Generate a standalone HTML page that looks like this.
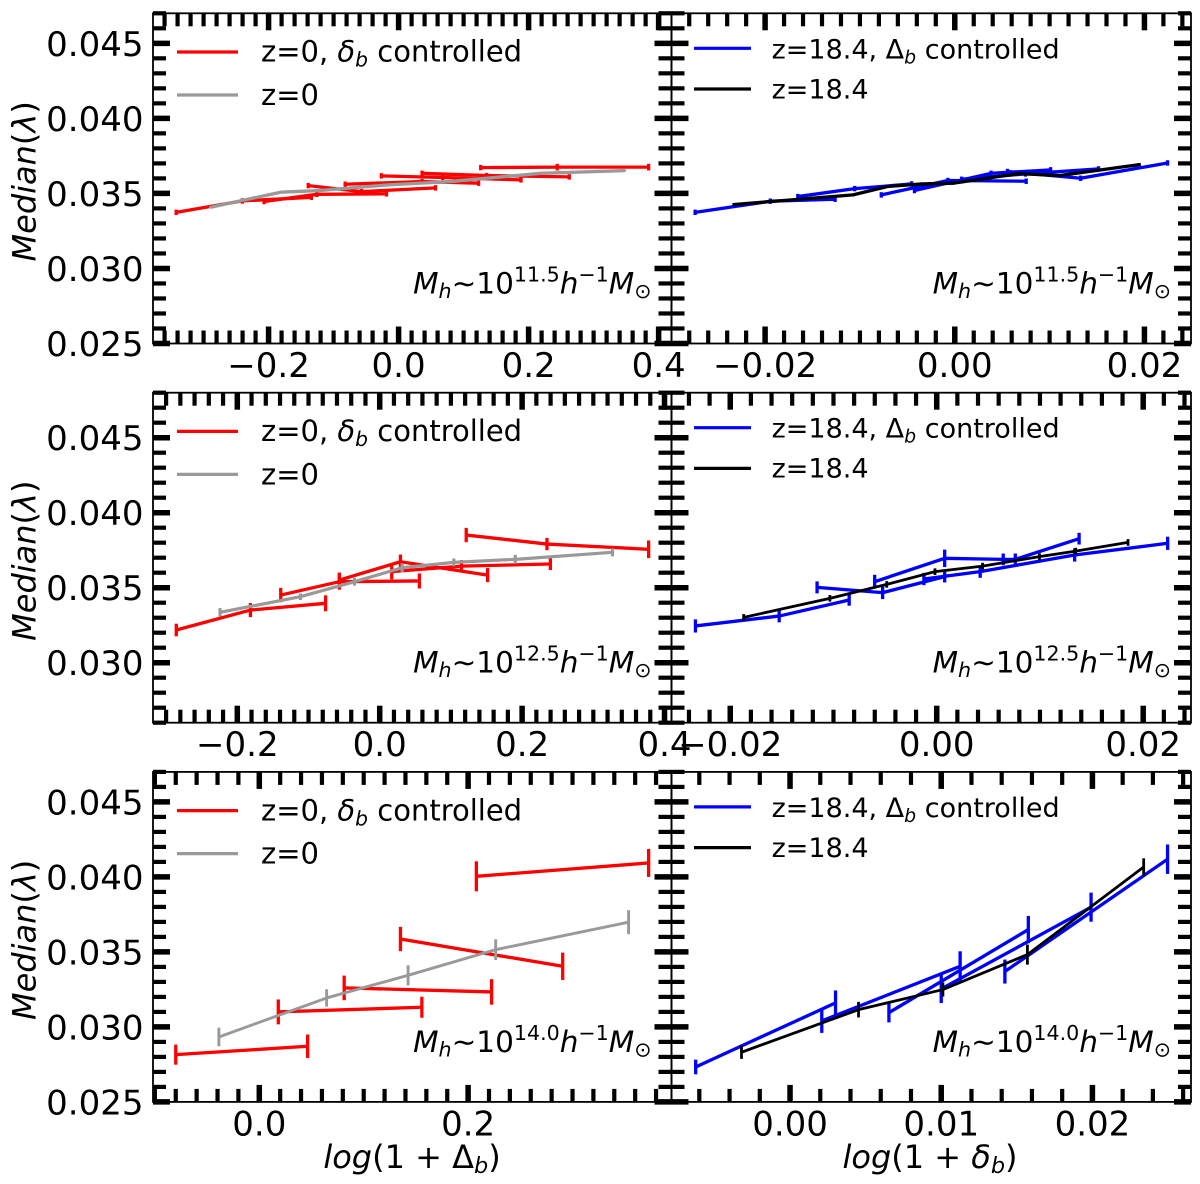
<!DOCTYPE html>
<html>
<head>
<meta charset="utf-8">
<title>Median spin parameter panels</title>
<style>
html,body{margin:0;padding:0;background:#fff;}
svg{display:block;font-family:"DejaVu Sans","Liberation Sans",sans-serif;}
</style>
</head>
<body>
<svg id="chart" width="1200" height="1184" viewBox="0 0 1200 1184" xmlns="http://www.w3.org/2000/svg"></svg>
<script>
// ---------- tick arrays ----------
const yTicksMain = [0.025, 0.030, 0.035, 0.040, 0.045];
const yLabelsMain = ['0.025', '0.030', '0.035', '0.040', '0.045'];
const yTicksMid = [0.030, 0.035, 0.040, 0.045];
const yLabelsMid = ['0.030', '0.035', '0.040', '0.045'];
const xTicksWide = [-0.2, 0.0, 0.2, 0.4];
const xLabelsWide = ['\u22120.2', '0.0', '0.2', '0.4'];
const xTicksBottomLeft = [0.0, 0.2];
const xLabelsBottomLeft = ['0.0', '0.2'];
const xTicksNarrow = [-0.02, 0.00, 0.02];
const xLabelsNarrow = ['\u22120.02', '0.00', '0.02'];
const xTicksBottomRight = [0.00, 0.01, 0.02];
const xLabelsBottomRight = ['0.00', '0.01', '0.02'];

// ---------- row 1, left ----------
const topLeftRedX = [[-0.3422,-0.2403,-0.1342],[-0.2069,-0.1257,-0.0186],[-0.139,-0.0568,0.0568],[-0.0822,0.0361,0.1231],[-0.0265,0.0679,0.1883],[0.0361,0.1353,0.2626],[0.1263,0.244,0.3846]];
const topLeftRedY = [[0.03374,0.0345,0.03474],[0.03446,0.03494,0.03497],[0.03552,0.03512,0.03537],[0.03561,0.03579,0.03568],[0.03617,0.03606,0.0359],[0.03634,0.03619,0.0361],[0.03672,0.03675,0.03675]];
const topLeftRedErr = [[0.00018,0.00018,0.00018],[0.00018,0.00018,0.00018],[0.00018,0.00018,0.00018],[0.00018,0.00018,0.00018],[0.00018,0.00018,0.00018],[0.00018,0.00018,0.00018],[0.00018,0.00022,0.00022]];
const topLeftGreyX = [-0.2891,-0.1814,-0.122,-0.0159,0.0796,0.2186,0.3475];
const topLeftGreyY = [0.03408,0.03508,0.03519,0.03557,0.03579,0.03634,0.03652];
const topLeftGreyErr = [0.00008,0.00008,0.00008,0.00008,0.00008,0.00008,0.00008];

// ---------- row 1, right ----------
const topRightBlueX = [[-0.02738,-0.01945,-0.01262],[-0.01655,-0.01055,-0.00455],[-0.00775,-0.00073,0.00753],[-0.00425,0.00382,0.01011],[0.00556,0.01327,0.02244],[0.00073,0.00745,0.01516]];
const topRightBlueY = [[0.03374,0.03448,0.03461],[0.03479,0.03532,0.03563],[0.0349,0.03586,0.03581],[0.03519,0.03634,0.03657],[0.03646,0.03601,0.03703],[0.03594,0.0363,0.03663]];
const topRightBlueErr = [[0.00018,0.00018,0.00018],[0.00018,0.00018,0.00018],[0.00018,0.00018,0.00018],[0.00018,0.00018,0.00018],[0.00018,0.00018,0.00018],[0.00018,0.00018,0.00018]];
const topRightBlackX = [-0.02327,-0.01073,-0.00709,-0.00345,-0.00018,0.00673,0.01109,0.01945];
const topRightBlackY = [0.03426,0.0349,0.03546,0.03563,0.03568,0.03632,0.03619,0.03692];
const topRightBlackErr = [0.0001,0.0001,0.0001,0.0001,0.0001,0.0001,0.0001,0.0001];

// ---------- row 2, left ----------
const midLeftRedX = [[-0.2857,-0.1816,-0.076],[-0.139,-0.0567,0.0557],[-0.0567,0.0291,0.1516],[0.0169,0.1148,0.2397],[0.1215,0.2349,0.3777]];
const midLeftRedY = [[0.03218,0.03351,0.03396],[0.03451,0.0354,0.03545],[0.03551,0.03673,0.03584],[0.03607,0.03644,0.03658],[0.03851,0.03791,0.03756]];
const midLeftRedErr = [[0.00042,0.00047,0.00053],[0.00048,0.00053,0.0005],[0.0005,0.00048,0.00047],[0.00051,0.0004,0.0004],[0.00048,0.00041,0.00059]];
const midLeftGreyX = [-0.2242,-0.1114,-0.0354,0.0315,0.1041,0.1903,0.3269];
const midLeftGreyY = [0.03336,0.0344,0.0354,0.03633,0.03669,0.03689,0.03736];
const midLeftGreyErr = [0.00028,0.00022,0.00026,0.0003,0.00026,0.0003,0.00027];

// ---------- row 2, right ----------
const midRightBlueX = [[-0.02337,-0.01526,-0.00848],[-0.01159,-0.00524,0.00077],[-0.00601,0.00077,0.00644,0.00761,0.01379],[-0.00124,0.00421,0.01336,0.02237]];
const midRightBlueY = [[0.03245,0.03311,0.03418],[0.03502,0.03467,0.03574],[0.0354,0.03696,0.03689,0.03689,0.03827],[0.03558,0.03607,0.03718,0.03796]];
const midRightBlueErr = [[0.00044,0.00042,0.00038],[0.0004,0.00043,0.00039],[0.00046,0.00058,0.00039,0.00039,0.00039],[0.00041,0.00041,0.00044,0.00044]];
const midRightBlackX = [-0.0187,-0.01035,-0.00484,-0.00017,0.00444,0.00995,0.01346,0.01853];
const midRightBlackY = [0.03302,0.03429,0.03522,0.03607,0.03644,0.03707,0.03744,0.03802];
const midRightBlackErr = [0.00022,0.00022,0.00022,0.00022,0.00022,0.00022,0.00022,0.00022];

// ---------- row 3, left ----------
const lowLeftRedX = [[-0.08,0.0463],[0.0182,0.1557],[0.0813,0.2225],[0.1352,0.2906],[0.2079,0.3729]];
const lowLeftRedY = [[0.02815,0.02871],[0.031,0.03131],[0.0326,0.03233],[0.03586,0.03404],[0.04004,0.04093]];
const lowLeftRedErr = [[0.00067,0.00078],[0.00083,0.0007],[0.00082,0.00085],[0.00081,0.00091],[0.001,0.00093]];
const lowLeftGreyX = [-0.0387,0.0645,0.1425,0.2264,0.3537];
const lowLeftGreyY = [0.02933,0.03193,0.03344,0.03515,0.03698];
const lowLeftGreyErr = [0.00062,0.00058,0.00067,0.00069,0.0008];

// ---------- row 3, right ----------
const lowRightBlueX = [[-0.00624,0.00301],[0.0021,0.01125],[0.00654,0.01576],[0.01,0.01991],[0.01421,0.02497]];
const lowRightBlueY = [[0.02733,0.0316],[0.0304,0.03404],[0.03095,0.03649],[0.03253,0.03798],[0.03369,0.04118]];
const lowRightBlueErr = [[0.00049,0.00083],[0.0008,0.001],[0.00065,0.00091],[0.00094,0.00097],[0.0008,0.00098]];
const lowRightBlackX = [-0.00321,0.00453,0.01011,0.0157,0.02339];
const lowRightBlackY = [0.02831,0.03115,0.03249,0.03482,0.04066];
const lowRightBlackErr = [0.00044,0.00052,0.00047,0.00067,0.00058];

const SVGNS = 'http://www.w3.org/2000/svg';
const svg = document.getElementById('chart');
const RED = '#ff0000', GREY = '#999999', BLUE = '#0000ff', BLACK = '#000000';

function make(parent, tag, attrs) {
  const node = document.createElementNS(SVGNS, tag);
  for (const key in attrs) node.setAttribute(key, attrs[key]);
  parent.appendChild(node);
  return node;
}
function span(textNode, str, style, size, dy) {
  const t = document.createElementNS(SVGNS, 'tspan');
  t.textContent = str;
  if (style) t.setAttribute('font-style', style);
  if (size) t.setAttribute('font-size', size);
  if (dy) t.setAttribute('dy', dy);
  textNode.appendChild(t);
  return t;
}

const panels = [
  {id:'top-left', col:0, top:13.3, bottom:343.5, left:153, right:671.5, xMin:-0.3778, xMax:0.4198, yMin:0.025, yMax:0.047, minor:0.02,
   xT:xTicksWide, xL:xLabelsWide, yT:yTicksMain, yL:yLabelsMain,
   sX:topLeftRedX, sY:topLeftRedY, sE:topLeftRedErr, rX:topLeftGreyX, rY:topLeftGreyY, rE:topLeftGreyErr, mass:'11.5', wS:3.3, wR:3.3},
  {id:'top-right', col:1, top:13.3, bottom:343.5, left:671.5, right:1191, xMin:-0.02987, xMax:0.02491, yMin:0.025, yMax:0.047, minor:0.002,
   xT:xTicksNarrow, xL:xLabelsNarrow, yT:yTicksMain, yL:null,
   sX:topRightBlueX, sY:topRightBlueY, sE:topRightBlueErr, rX:topRightBlackX, rY:topRightBlackY, rE:topRightBlackErr, mass:'11.5', wS:3.3, wR:3.3},
  {id:'middle-left', col:0, top:392.7, bottom:722.7, left:153, right:671.5, xMin:-0.3184, xMax:0.4098, yMin:0.026, yMax:0.048, minor:0.02,
   xT:xTicksWide, xL:xLabelsWide, yT:yTicksMid, yL:yLabelsMid,
   sX:midLeftRedX, sY:midLeftRedY, sE:midLeftRedErr, rX:midLeftGreyX, rY:midLeftGreyY, rE:midLeftGreyErr, mass:'12.5', wS:3.3, wR:3.2},
  {id:'middle-right', col:1, top:392.7, bottom:722.7, left:671.5, right:1191, xMin:-0.02569, xMax:0.02463, yMin:0.026, yMax:0.048, minor:0.002,
   xT:xTicksNarrow, xL:xLabelsNarrow, yT:yTicksMid, yL:null,
   sX:midRightBlueX, sY:midRightBlueY, sE:midRightBlueErr, rX:midRightBlackX, rY:midRightBlackY, rE:midRightBlackErr, mass:'12.5', wS:3.3, wR:2.8},
  {id:'bottom-left', col:0, top:771.9, bottom:1101.9, left:153, right:671.5, xMin:-0.1018, xMax:0.3948, yMin:0.025, yMax:0.047, minor:0.02,
   xT:xTicksBottomLeft, xL:xLabelsBottomLeft, yT:yTicksMain, yL:yLabelsMain,
   sX:lowLeftRedX, sY:lowLeftRedY, sE:lowLeftRedErr, rX:lowLeftGreyX, rY:lowLeftGreyY, rE:lowLeftGreyErr, mass:'14.0', wS:3.3, wR:2.9, xName:'\u0394'},
  {id:'bottom-right', col:1, top:771.9, bottom:1101.9, left:671.5, right:1191, xMin:-0.00784, xMax:0.02652, yMin:0.025, yMax:0.047, minor:0.002,
   xT:xTicksBottomRight, xL:xLabelsBottomRight, yT:yTicksMain, yL:null,
   sX:lowRightBlueX, sY:lowRightBlueY, sE:lowRightBlueErr, rX:lowRightBlackX, rY:lowRightBlackY, rE:lowRightBlackErr, mass:'14.0', wS:3.3, wR:2.8, xName:'\u03b4'}
];

function drawSeries(g, xs, ys, es, color, width, xf, yf, name) {
  const pts = xs.map(function (x, i) { return xf(x) + ',' + yf(ys[i]); }).join(' ');
  const line = make(g, 'polyline', {points: pts, fill: 'none', stroke: color, 'stroke-width': width, 'stroke-linejoin': 'round'});
  
  
  xs.forEach(function (x, i) {
    const bar = make(g, 'line', {x1: xf(x), x2: xf(x), y1: yf(ys[i] - es[i]), y2: yf(ys[i] + es[i]), stroke: color, 'stroke-width': width});
    
    
  });
}

panels.forEach(function (p) {
  const g = make(svg, 'g', {});
  
  
  const xf = function (v) { return +(p.left + (v - p.xMin) / (p.xMax - p.xMin) * (p.right - p.left)).toFixed(2); };
  const yf = function (v) { return +(p.bottom - (v - p.yMin) / (p.yMax - p.yMin) * (p.bottom - p.top)).toFixed(2); };

  // series
  const sColor = p.col === 0 ? RED : BLUE;
  const rColor = p.col === 0 ? GREY : BLACK;
  p.sX.forEach(function (xs, i) {
    drawSeries(g, xs, p.sY[i], p.sE[i], sColor, p.wS, xf, yf, p.col === 0 ? 'controlled-z0-series' : 'controlled-z18-series');
  });
  drawSeries(g, p.rX, p.rY, p.rE, rColor, p.wR, xf, yf, p.col === 0 ? 'z0-series' : 'z18-series');

  // spines
  const frame = make(g, 'rect', {x: p.left, y: p.top, width: p.right - p.left, height: p.bottom - p.top, fill: 'none', stroke: '#000', 'stroke-width': 1.8});
  
  

  // y ticks
  const yCount = Math.round((p.yMax - p.yMin) / 0.001);
  for (let k = 0; k <= yCount; k++) {
    const v = p.yMin + k * 0.001;
    const major = Math.abs(v / 0.005 - Math.round(v / 0.005)) < 1e-6;
    const len = major ? 17 : 13, w = major ? 5.5 : 4.2;
    const y = yf(v);
    const tl = make(g, 'line', {x1: p.left, x2: p.left + len, y1: y, y2: y, stroke: '#000', 'stroke-width': w});
    
    
    const tr = make(g, 'line', {x1: p.right, x2: p.right - len, y1: y, y2: y, stroke: '#000', 'stroke-width': w});
    
    
  }
  // x ticks
  const first = Math.ceil(p.xMin / p.minor - 1e-6);
  const last = Math.floor(p.xMax / p.minor + 1e-6);
  for (let k = first; k <= last; k++) {
    const v = k * p.minor;
    const major = p.xT.some(function (t) { return Math.abs(t - v) < p.minor / 10; }) || k % 10 === 0;
    const len = major ? 17 : 13, w = major ? 5.5 : 4.2;
    const x = xf(v);
    const tb = make(g, 'line', {x1: x, x2: x, y1: p.bottom, y2: p.bottom - len, stroke: '#000', 'stroke-width': w});
    
    
    const tt = make(g, 'line', {x1: x, x2: x, y1: p.top, y2: p.top + len, stroke: '#000', 'stroke-width': w});
    
    
  }

  // tick labels
  p.xT.forEach(function (v, i) {
    const t = make(g, 'text', {x: xf(v), y: p.bottom + 33.5, 'text-anchor': 'middle', 'font-size': 34, fill: '#000'});
    
    
    t.textContent = p.xL[i];
  });
  if (p.yL) {
    p.yT.forEach(function (v, i) {
      const t = make(g, 'text', {x: 143.5, y: yf(v) + 12.5, 'text-anchor': 'end', 'font-size': 34, fill: '#000'});
      
      
      t.textContent = p.yL[i];
    });
    const yl = make(g, 'text', {transform: 'translate(35.5,' + (p.top + 168) + ') rotate(-90)', 'text-anchor': 'middle', 'font-size': 32, fill: '#000'});
    
    
    span(yl, 'Median', 'italic');
    span(yl, '(');
    span(yl, '\u03bb', 'italic');
    span(yl, ')');
  }
  if (p.xName) {
    const xl = make(g, 'text', {x: p.col === 0 ? 412 : 930, y: 1168, 'text-anchor': 'middle', 'font-size': 32, fill: '#000'});
    
    
    span(xl, 'log', 'italic');
    span(xl, '(1 + ');
    span(xl, p.xName, p.xName === '\u03b4' ? 'italic' : null);
    span(xl, 'b', 'italic', 22.4, 5);
    span(xl, ')', null, 32, -5);
  }

  // legend
  const lx1 = p.col === 0 ? 177 : 694, lx2 = p.col === 0 ? 238 : 751;
  const tx = p.col === 0 ? 261 : 771.6;
  const ly1 = p.top + (p.col === 0 ? 38.7 : 35), ly2 = p.top + (p.col === 0 ? 81.7 : 75.7);
  const tb1 = p.top + (p.col === 0 ? 48.4 : 45), tb2 = p.top + (p.col === 0 ? 91.7 : 85);
  const fs = p.col === 0 ? 29 : 27;
  const leg = make(g, 'g', {});
  
  
  const h1 = make(leg, 'line', {x1: lx1, x2: lx2, y1: ly1, y2: ly1, stroke: sColor, 'stroke-width': 3.2});
  
  
  const h2 = make(leg, 'line', {x1: lx1, x2: lx2, y1: ly2, y2: ly2, stroke: rColor, 'stroke-width': 3.2});
  
  
  const t1 = make(leg, 'text', {x: tx, y: tb1, 'font-size': fs, fill: '#000'});
  
  
  span(t1, p.col === 0 ? 'z=0, ' : 'z=18.4, ');
  span(t1, p.col === 0 ? '\u03b4' : '\u0394', p.col === 0 ? 'italic' : null);
  span(t1, 'b', 'italic', fs * 0.7, 5);
  span(t1, ' controlled', null, fs, -5);
  const t2 = make(leg, 'text', {x: tx, y: tb2, 'font-size': fs, fill: '#000'});
  
  
  t2.textContent = p.col === 0 ? 'z=0' : 'z=18.4';

  // halo mass annotation
  const ann = make(g, 'text', {x: p.right - 20, y: p.top + 280, 'text-anchor': 'end', 'font-size': 29.5, fill: '#000'});
  
  
  span(ann, 'M', 'italic');
  span(ann, 'h', 'italic', 20.6, 4.5);
  span(ann, '\u223c10', null, 29.5, -4.5);
  span(ann, p.mass, null, 20.6, -12);
  span(ann, 'h', 'italic', 29.5, 12);
  span(ann, '\u22121', null, 20.6, -12);
  span(ann, 'M', 'italic', 29.5, 12);
  span(ann, '\u2299', null, 20.6, 4.5);
});
</script>
</body>
</html>
